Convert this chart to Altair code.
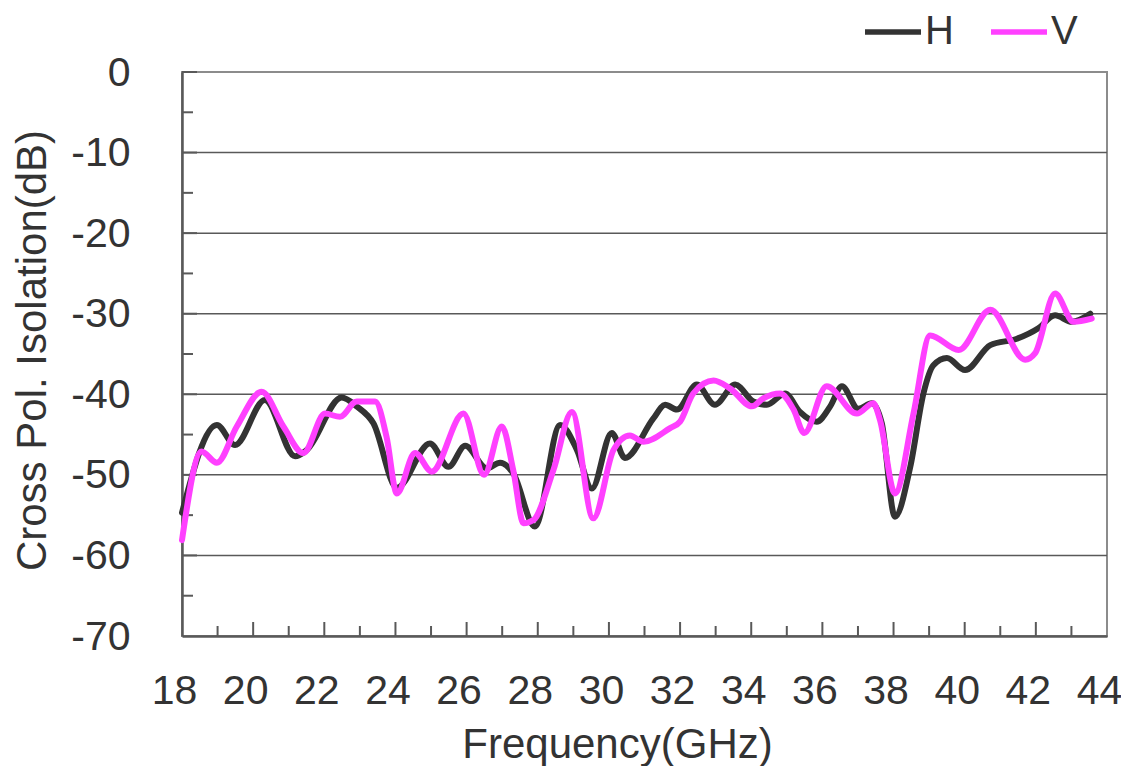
import altair as alt
import pandas as pd

# ---- data ----
h_freq = [18.0, 18.98, 19.49, 20.33, 21.18, 21.51, 22.49, 22.91, 23.38, 24.04,
          24.97, 25.49, 25.96, 26.57, 26.94, 27.31, 27.92, 28.63, 29.10, 29.52,
          30.08, 30.45, 31.25, 31.58, 31.91, 32.47, 32.98, 33.55, 34.06, 34.44,
          34.95, 35.37, 35.84, 36.22, 36.55, 37.01, 37.39, 37.67, 38.04, 38.47,
          38.84, 39.12, 39.50, 40.01, 40.72, 41.47, 42.07, 42.54, 43.01, 43.53]
h_vals = [-54.7, -43.8, -46.3, -40.7, -47.7, -46.9, -40.4, -41.5, -43.6, -51.6,
          -46.1, -49.0, -46.4, -49.2, -48.5, -49.8, -56.4, -43.8, -46.9, -51.7,
          -44.8, -47.9, -43.0, -41.3, -41.9, -38.8, -41.3, -38.8, -40.9, -41.3,
          -39.9, -42.2, -43.4, -41.5, -39.0, -41.8, -41.1, -43.6, -55.2, -49.0,
          -39.9, -36.4, -35.5, -37.0, -33.9, -33.1, -31.8, -30.2, -31.0, -30.0]

v_freq = [18.0, 18.55, 18.98, 19.54, 20.24, 20.85, 21.41, 22.02, 22.44, 22.91,
          23.43, 23.75, 24.04, 24.55, 25.02, 25.91, 26.49, 26.99, 27.31, 27.60,
          27.88, 28.44, 28.96, 29.56, 30.13, 30.59, 30.97, 31.72, 32.0, 32.37,
          32.94, 33.41, 34.02, 34.34, 34.81, 35.19, 35.49, 36.12, 36.97, 37.43,
          37.62, 38.04, 38.56, 39.03, 39.83, 40.72, 41.70, 41.98, 42.54, 43.06, 43.57]
v_vals = [-58.1, -47.1, -48.5, -44.0, -39.7, -44.0, -47.3, -42.4, -42.8, -40.9,
          -40.9, -45.3, -52.3, -47.3, -49.6, -42.4, -50.0, -44.0, -49.4, -56.0,
          -55.6, -49.4, -42.2, -55.4, -46.9, -45.1, -45.9, -44.2, -43.4, -39.9,
          -38.3, -39.3, -41.5, -40.5, -39.9, -41.9, -44.8, -39.0, -42.4, -41.1,
          -43.2, -52.3, -42.4, -32.7, -34.5, -29.5, -35.7, -34.9, -27.5, -31.0, -30.6]

series_names = ["H", "V"]
series_colors = ["#333333", "#ff40ff"]

x_labels = list(range(18, 45, 2))
y_labels = list(range(-70, 1, 10))
grid_values = [-10, -20, -30, -40, -50, -60]
x_major_ticks = list(range(20, 44, 2))
x_minor_ticks = list(range(19, 44, 2))
y_major_ticks = [0, -10, -20, -30, -40, -50, -60]
y_minor_ticks = [-5, -15, -25, -35, -45, -55, -65]

FONT = "Liberation Sans"
TXT = "#333333"
W, H = 925, 564

df = pd.concat([
    pd.DataFrame({"freq": h_freq, "val": h_vals, "series": "H"}),
    pd.DataFrame({"freq": v_freq, "val": v_vals, "series": "V"}),
])

xs = alt.Scale(domain=[18, 44], nice=False, zero=False)
ys = alt.Scale(domain=[-70, 0], nice=False, zero=False)

grid = alt.Chart(pd.DataFrame({"g": grid_values})).mark_rule(
    color="#595959", strokeWidth=1.5
).encode(y=alt.Y("g:Q", scale=ys), x=alt.value(0), x2=alt.value(W))

xmaj = alt.Chart(pd.DataFrame({"t": x_major_ticks})).mark_rule(
    color="#595959", strokeWidth=2
).encode(x=alt.X("t:Q", scale=xs), y=alt.value(H), y2=alt.value(H - 14))

xmin = alt.Chart(pd.DataFrame({"t": x_minor_ticks})).mark_rule(
    color="#595959", strokeWidth=2
).encode(x=alt.X("t:Q", scale=xs), y=alt.value(H), y2=alt.value(H - 10))

ymaj = alt.Chart(pd.DataFrame({"t": y_major_ticks})).mark_rule(
    color="#595959", strokeWidth=2
).encode(y=alt.Y("t:Q", scale=ys), x=alt.value(0), x2=alt.value(15))

ymin = alt.Chart(pd.DataFrame({"t": y_minor_ticks})).mark_rule(
    color="#595959", strokeWidth=2
).encode(y=alt.Y("t:Q", scale=ys), x=alt.value(0), x2=alt.value(11))

lines = alt.Chart(df).mark_line(
    strokeWidth=6, interpolate="monotone", strokeCap="round", strokeJoin="round"
).encode(
    x=alt.X("freq:Q", scale=xs, axis=alt.Axis(
        values=x_labels, title="Frequency(GHz)", ticks=False, grid=False,
        labelFlush=False, labelPadding=35, labelOffset=-8,
        labelExpr="'' + datum.value",
        labelFont=FONT, labelFontSize=41, labelColor=TXT,
        titleFont=FONT, titleFontSize=42, titleColor=TXT, titleFontWeight="normal",
        titleX=435, titleY=121, titleBaseline="alphabetic", titleAnchor="start",
        titleAlign="center", domainColor="#595959", domainWidth=2.5,
    )),
    y=alt.Y("val:Q", scale=ys, axis=alt.Axis(
        values=y_labels, title="Cross Pol. Isolation(dB)", ticks=False, grid=False,
        labelFlush=False, labelPadding=52, labelOffset=1,
        labelExpr="'' + datum.value",
        labelFont=FONT, labelFontSize=41, labelColor=TXT,
        titleFont=FONT, titleFontSize=42, titleColor=TXT, titleFontWeight="normal",
        titleX=-137, titleY=278, titleBaseline="alphabetic", titleAlign="center",
        titleAngle=270, domainColor="#595959", domainWidth=2.5,
    )),
    color=alt.Color("series:N", scale=alt.Scale(domain=series_names, range=series_colors),
                    legend=alt.Legend(
                        title=None, orient="none", direction="horizontal",
                        legendX=680, legendY=-71, symbolType="stroke",
                        symbolSize=3136, symbolStrokeWidth=5.5, labelOffset=1,
                        columnPadding=26, labelFontSize=40, labelFont=FONT,
                        labelColor=TXT, padding=0,
                    )),
    order=alt.Order("series:N"),
)

chart = alt.layer(grid, xmaj, xmin, ymaj, ymin, lines).properties(
    width=W, height=H,
    background="white",
    autosize=alt.AutoSizeParams(type="none"),
    padding={"left": 174, "top": 64, "right": 14, "bottom": 130},
).configure_view(
    stroke="#8c8c8c", strokeWidth=2
)

chart.save("out.html", embed_options={"renderer": "svg", "actions": False})
